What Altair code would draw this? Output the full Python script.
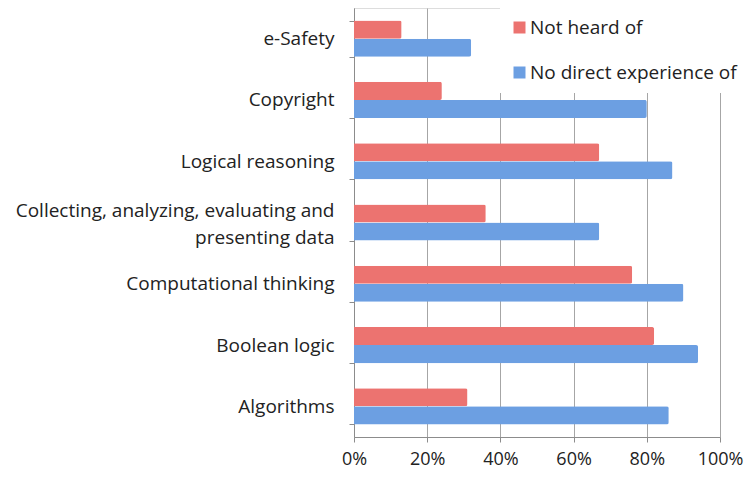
import altair as alt
import pandas as pd

categories = [
    "e-Safety",
    "Copyright",
    "Logical reasoning",
    "Collecting, analyzing, evaluating and presenting data",
    "Computational thinking",
    "Boolean logic",
    "Algorithms",
]
series = ["Not heard of", "No direct experience of"]
not_heard = [0.13, 0.24, 0.67, 0.36, 0.76, 0.82, 0.31]
no_direct = [0.32, 0.80, 0.87, 0.67, 0.90, 0.94, 0.86]
x_ticks = [0, 0.2, 0.4, 0.6, 0.8, 1.0]
colors = ["#EC7370", "#6C9FE2"]

rows = []
for c, a, b in zip(categories, not_heard, no_direct):
    rows.append({"category": c, "series": series[0], "value": a})
    rows.append({"category": c, "series": series[1], "value": b})
df = pd.DataFrame(rows)

long_label = categories[3]
label_expr = (
    f"datum.value == '{long_label}' ? "
    "['Collecting, analyzing, evaluating and', 'presenting data'] : datum.label"
)

font = "Open Sans"

chart = (
    alt.Chart(df)
    .mark_bar(cornerRadiusEnd=2)
    .encode(
        x=alt.X(
            "value:Q",
            scale=alt.Scale(domain=[0, 1], nice=False),
            axis=alt.Axis(
                values=x_ticks,
                format=".0%",
                title=None,
                grid=True,
                gridColor="#a6a6a6",
                gridWidth=1,
                domainColor="#8c8c8c",
                tickColor="#8c8c8c",
                tickSize=5,
                labelFontSize=18,
                labelColor="#222222",
                labelFont=font,
                labelPadding=8,
                labelFlush=False,
            ),
        ),
        y=alt.Y(
            "category:N",
            sort=categories,
            scale=alt.Scale(paddingInner=0.41, paddingOuter=0.205),
            axis=alt.Axis(
                title=None,
                grid=False,
                tickBand="extent",
                domainColor="#8c8c8c",
                tickColor="#8c8c8c",
                tickSize=5,
                labelFontSize=19,
                labelColor="#222222",
                labelFont=font,
                labelPadding=15,
                labelLimit=400,
                labelLineHeight=27,
                labelExpr=label_expr,
                labelOffset={
                    "condition": {"test": f"datum.value == '{long_label}'", "value": -12},
                    "value": 0,
                },
            ),
        ),
        yOffset=alt.YOffset("series:N", sort=series),
        color=alt.Color(
            "series:N",
            sort=series,
            scale=alt.Scale(domain=series, range=colors),
            legend=alt.Legend(
                title=None,
                orient="none",
                legendX=146,
                legendY=0,
                symbolType="square",
                symbolSize=144,
                symbolStrokeWidth=0,
                labelFontSize=19,
                labelColor="#222222",
                labelFont=font,
                labelOffset=1,
                rowPadding=25,
                padding=10,
                fillColor="white",
                labelLimit=300,
            ),
        ),
    )
    .properties(
        width=366,
        height=429,
        autosize=alt.AutoSizeParams(type="none"),
        padding={"left": 346, "top": 0, "right": 26, "bottom": 37},
    )
    .configure_view(stroke=None)
    .configure(background="white")
)

chart.save("out.html", embed_options={"renderer": "svg", "actions": False})
